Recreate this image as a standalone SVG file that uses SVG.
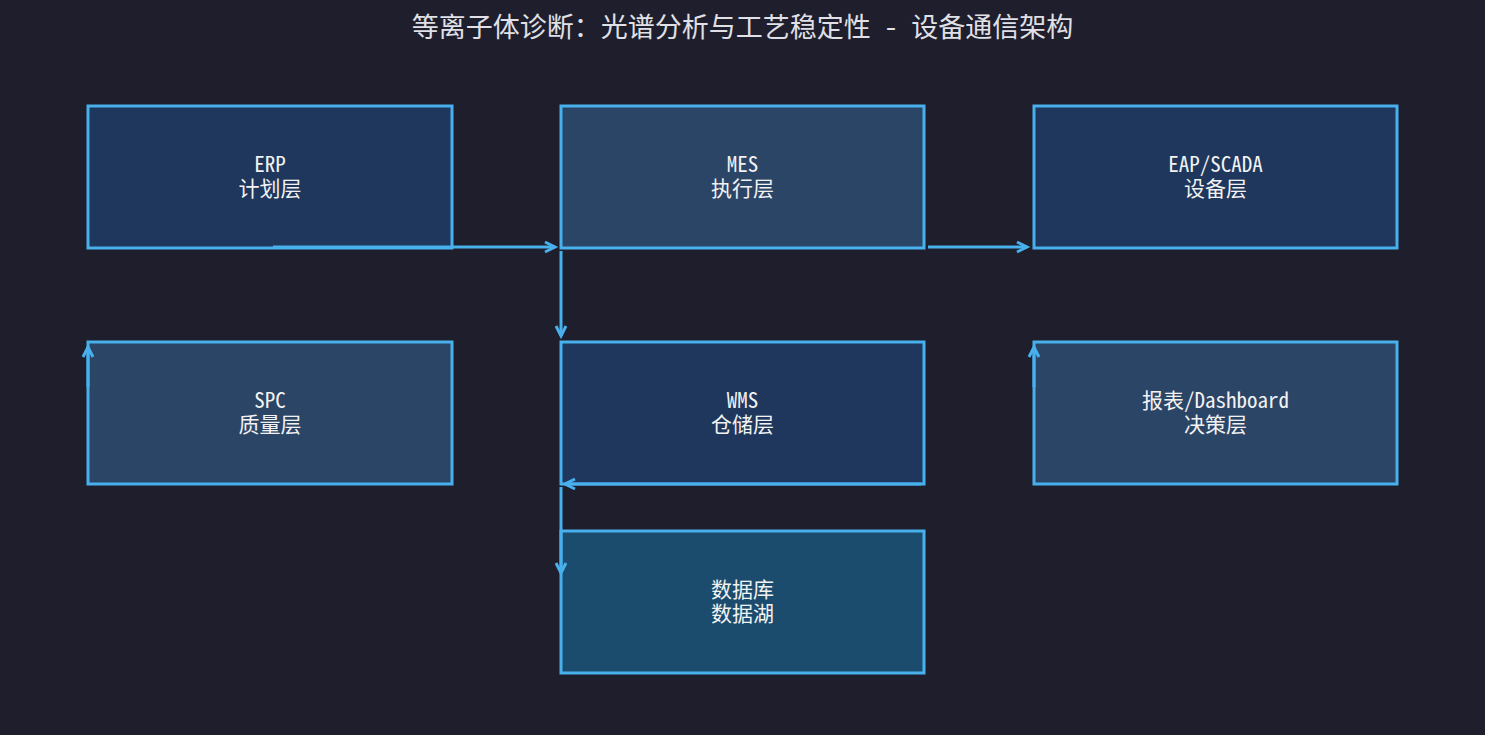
<svg xmlns="http://www.w3.org/2000/svg" width="1485" height="735" viewBox="0 0 1485 735">
<style>
.bg{fill:#1e1e2d}
.box{stroke:#48b0ec;stroke-width:3}
.f1{fill:#1f375c}
.f2{fill:#2b4566}
.f3{fill:#1c4c6d}
.t{font-family:"Noto Sans Mono CJK SC","DejaVu Sans Mono","Noto Sans CJK SC",monospace;font-size:21px;fill:#f2f2f2;text-anchor:middle}
.title{font-family:"Noto Sans Mono CJK SC","Noto Sans CJK SC",monospace;font-size:27px;fill:#e0e0e6;text-anchor:middle}
.c{stroke:#48b0ec;stroke-width:3;fill:none;marker-end:url(#ah)}
</style>
<defs>
<marker id="ah" markerUnits="userSpaceOnUse" markerWidth="16" markerHeight="16" refX="12" refY="7" orient="auto">
<path d="M2,2 L12,7 L2,12" fill="none" stroke="#48b0ec" stroke-width="3"/>
</marker>
</defs>
<rect class="bg" x="0" y="0" width="1485" height="735"/>
<text class="title" x="742.5" y="37">等离子体诊断：光谱分析与工艺稳定性 - 设备通信架构</text>
<g id="erp"><rect class="box f1" x="88" y="106" width="364" height="142"/><text class="t" x="270" y="172">ERP</text><text class="t" x="270" y="196">计划层</text></g>
<g id="mes"><rect class="box f2" x="561" y="106" width="363" height="142"/><text class="t" x="742.5" y="172">MES</text><text class="t" x="742.5" y="196">执行层</text></g>
<g id="eap"><rect class="box f1" x="1034" y="106" width="363" height="142"/><text class="t" x="1215.5" y="172">EAP/SCADA</text><text class="t" x="1215.5" y="196">设备层</text></g>
<g id="spc"><rect class="box f2" x="88" y="342" width="364" height="142"/><text class="t" x="270" y="408">SPC</text><text class="t" x="270" y="432">质量层</text></g>
<g id="wms"><rect class="box f1" x="561" y="342" width="363" height="142"/><text class="t" x="742.5" y="408">WMS</text><text class="t" x="742.5" y="432">仓储层</text></g>
<g id="dashboard"><rect class="box f2" x="1034" y="342" width="363" height="142"/><text class="t" x="1215.5" y="408">报表/Dashboard</text><text class="t" x="1215.5" y="432">决策层</text></g>
<g id="db"><rect class="box f3" x="561" y="531" width="363" height="142"/><text class="t" x="742.5" y="597">数据库</text><text class="t" x="742.5" y="621">数据湖</text></g>
<g id="connectors">
<line class="c" x1="273" y1="247" x2="555" y2="247"/>
<line class="c" x1="561" y1="251" x2="561" y2="336"/>
<line class="c" x1="928" y1="247" x2="1027" y2="247"/>
<line class="c" x1="88" y1="387" x2="88" y2="347"/>
<line class="c" x1="1034" y1="387" x2="1034" y2="347"/>
<line class="c" x1="921" y1="484" x2="565" y2="484"/>
<line class="c" x1="561" y1="487" x2="561" y2="573"/>
</g>
</svg>
